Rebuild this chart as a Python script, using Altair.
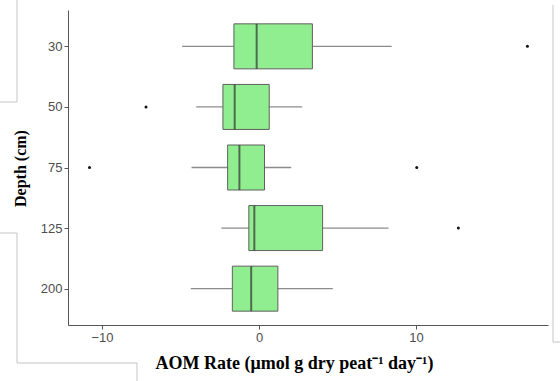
import altair as alt
import pandas as pd

# Box-plot summary of AOM rate per sampling depth
depths = ["30", "50", "75", "125", "200"]
lower_whisker = [-4.9, -4.0, -4.3, -2.4, -4.35]
q1 = [-1.6, -2.3, -2.0, -0.65, -1.7]
median = [-0.15, -1.55, -1.25, -0.3, -0.5]
q3 = [3.4, 0.65, 0.35, 4.05, 1.2]
upper_whisker = [8.45, 2.75, 2.05, 8.25, 4.7]

# Points beyond the whiskers
outlier_depth = ["30", "50", "75", "75", "125"]
outlier_value = [17.1, -7.2, -10.8, 10.05, 12.7]

x_ticks = [-10, 0, 10]

boxes = pd.DataFrame({
    "depth": depths, "lo": lower_whisker, "q1": q1,
    "med": median, "q3": q3, "hi": upper_whisker,
})
outliers = pd.DataFrame({"depth": outlier_depth, "value": outlier_value})

x_scale = alt.Scale(domain=[-12.17, 18.41], nice=False, zero=False)
y_scale = alt.Scale(type="point", domain=depths, padding=0.6)

x_axis = alt.Axis(
    values=x_ticks, grid=False, title="AOM Rate (μmol g dry peat⁻¹ day⁻¹)",
    titleX=226, titleY=43, titleBaseline="alphabetic", titleFontSize=18,
)
y_axis = alt.Axis(
    grid=False, title="Depth (cm)",
    titleX=-43, titleY=158, titleAngle=-90, titleBaseline="alphabetic",
)

base = alt.Chart(boxes)

whiskers = base.mark_rule(color="#8c8c8c", strokeWidth=1.3).encode(
    x=alt.X("lo:Q", scale=x_scale, axis=x_axis),
    x2="hi:Q",
    y=alt.Y("depth:N", scale=y_scale, axis=y_axis, sort=depths),
)

box = base.mark_bar(
    size=45, color="#90EE90", stroke="#5f5f5f", strokeWidth=1
).encode(
    x=alt.X("q1:Q", scale=x_scale),
    x2="q3:Q",
    y=alt.Y("depth:N", scale=y_scale, sort=depths),
)

med = base.mark_tick(
    orient="vertical", size=45, thickness=2, color="#333333"
).encode(
    x=alt.X("med:Q", scale=x_scale),
    y=alt.Y("depth:N", scale=y_scale, sort=depths),
)

dots = alt.Chart(outliers).mark_circle(size=9, color="#111111", opacity=1).encode(
    x=alt.X("value:Q", scale=x_scale),
    y=alt.Y("depth:N", scale=y_scale, sort=depths),
)

# Thin grey frame lines around the figure panel
frame_segments = [
    (-51, -51, -10, 92), (-68, -51, 92, 92),
    (-68, -51, 223, 223), (-51, -51, 223, 353),
    (-51, 69, 353, 353), (69, 69, 353, 371),
    (485, 485, -5, 332), (485, 492, 332, 332),
]
frame = [
    alt.Chart(pd.DataFrame({"k": [0]})).mark_rule(
        color="#c4c4c4", strokeWidth=1
    ).encode(
        x=alt.value(a), x2=alt.value(b), y=alt.value(c), y2=alt.value(d)
    )
    for a, b, c, d in frame_segments
]

chart = alt.layer(whiskers, box, med, dots, *frame).properties(
    width=480, height=315,
    padding={"left": 68, "top": 10, "right": 12, "bottom": 56},
    autosize=alt.AutoSizeParams(type="none"),
    background="white",
).configure_view(
    stroke=None
).configure_axis(
    domainColor="#555555", tickColor="#555555", tickSize=4,
    labelColor="#4d4d4d", labelFont="Liberation Sans", labelFontSize=13,
    labelPadding=2,
    titleFont="Liberation Serif", titleFontSize=16, titleFontWeight="bold",
    titleColor="#000000",
)

chart.save("out.html", embed_options={"renderer": "svg", "actions": False})
